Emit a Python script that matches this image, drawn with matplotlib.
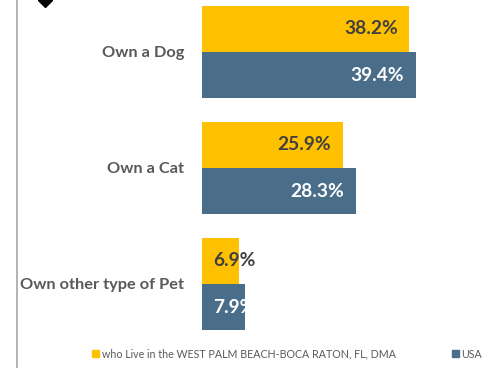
import matplotlib.pyplot as plt
from matplotlib.lines import Line2D
from matplotlib.patches import Patch
import numpy as np

plt.rcParams['font.family'] = ['Lato', 'DejaVu Sans']

# data
categories = ['Own a Dog', 'Own a Cat', 'Own other type of Pet']
local_pct = [38.2, 25.9, 6.9]
usa_pct = [39.4, 28.3, 7.9]
series_names = ['who Live in the WEST PALM BEACH-BOCA RATON, FL, DMA', 'USA']

yellow = '#FFC000'
blue = '#4A6E8A'
grey_txt = '#595959'

fig = plt.figure(figsize=(4.97, 3.68), dpi=100)
ax = fig.add_axes([202 / 497, 26 / 368, 271.5 / 497, 342 / 368])

y = np.arange(len(categories))
h = 0.4
bars_local = ax.barh(y - h / 2, local_pct, height=h, color=yellow)
bars_usa = ax.barh(y + h / 2, usa_pct, height=h, color=blue)

ax.set_xlim(0, 50)
ax.set_ylim(2.5, -0.448)

for spine in ax.spines.values():
    spine.set_visible(False)
ax.set_xticks([])
ax.set_yticks(y)
ax.set_yticklabels(categories, fontsize=11.8, fontweight='bold', color=grey_txt)
ax.tick_params(axis='y', length=0, pad=13)

# value labels, inside end where they fit, otherwise from the bar base
def add_labels(bars, vals, txt_color, clip):
    for b, v in zip(bars, vals):
        yc = b.get_y() + b.get_height() / 2
        if v > 15:
            t = ax.annotate('{:.1f}%'.format(v), (v, yc), xytext=(-8.5, 0),
                            textcoords='offset points', ha='right', va='center',
                            fontsize=13.8, fontweight='bold', color=txt_color)
        else:
            t = ax.annotate('{:.1f}%'.format(v), (0, yc), xytext=(8, 0),
                            textcoords='offset points', ha='left', va='center',
                            fontsize=13.8, fontweight='bold', color=txt_color)
            if clip:
                t.set_clip_path(b)

add_labels(bars_local, local_pct, '#404040', False)
add_labels(bars_usa, usa_pct, 'white', True)

# left border line of the frame and the cut-off marker at the top
fig.add_artist(Line2D([17 / 497, 17 / 497], [0, 1], color='#A6A6A6', lw=1.2))
fig.add_artist(Line2D([45 / 497], [1.0], marker='D', markersize=7, color='black', lw=0))

handles = [Patch(color=yellow), Patch(color=blue)]
fig.legend(handles, series_names, loc='center', bbox_to_anchor=(0.578, 14 / 368), ncol=2,
           frameon=False, fontsize=7.7, labelcolor=grey_txt, handlelength=0.6,
           handleheight=0.6, handletextpad=0.25, columnspacing=5.3, borderpad=0)

fig.savefig('out.png', dpi=100)
